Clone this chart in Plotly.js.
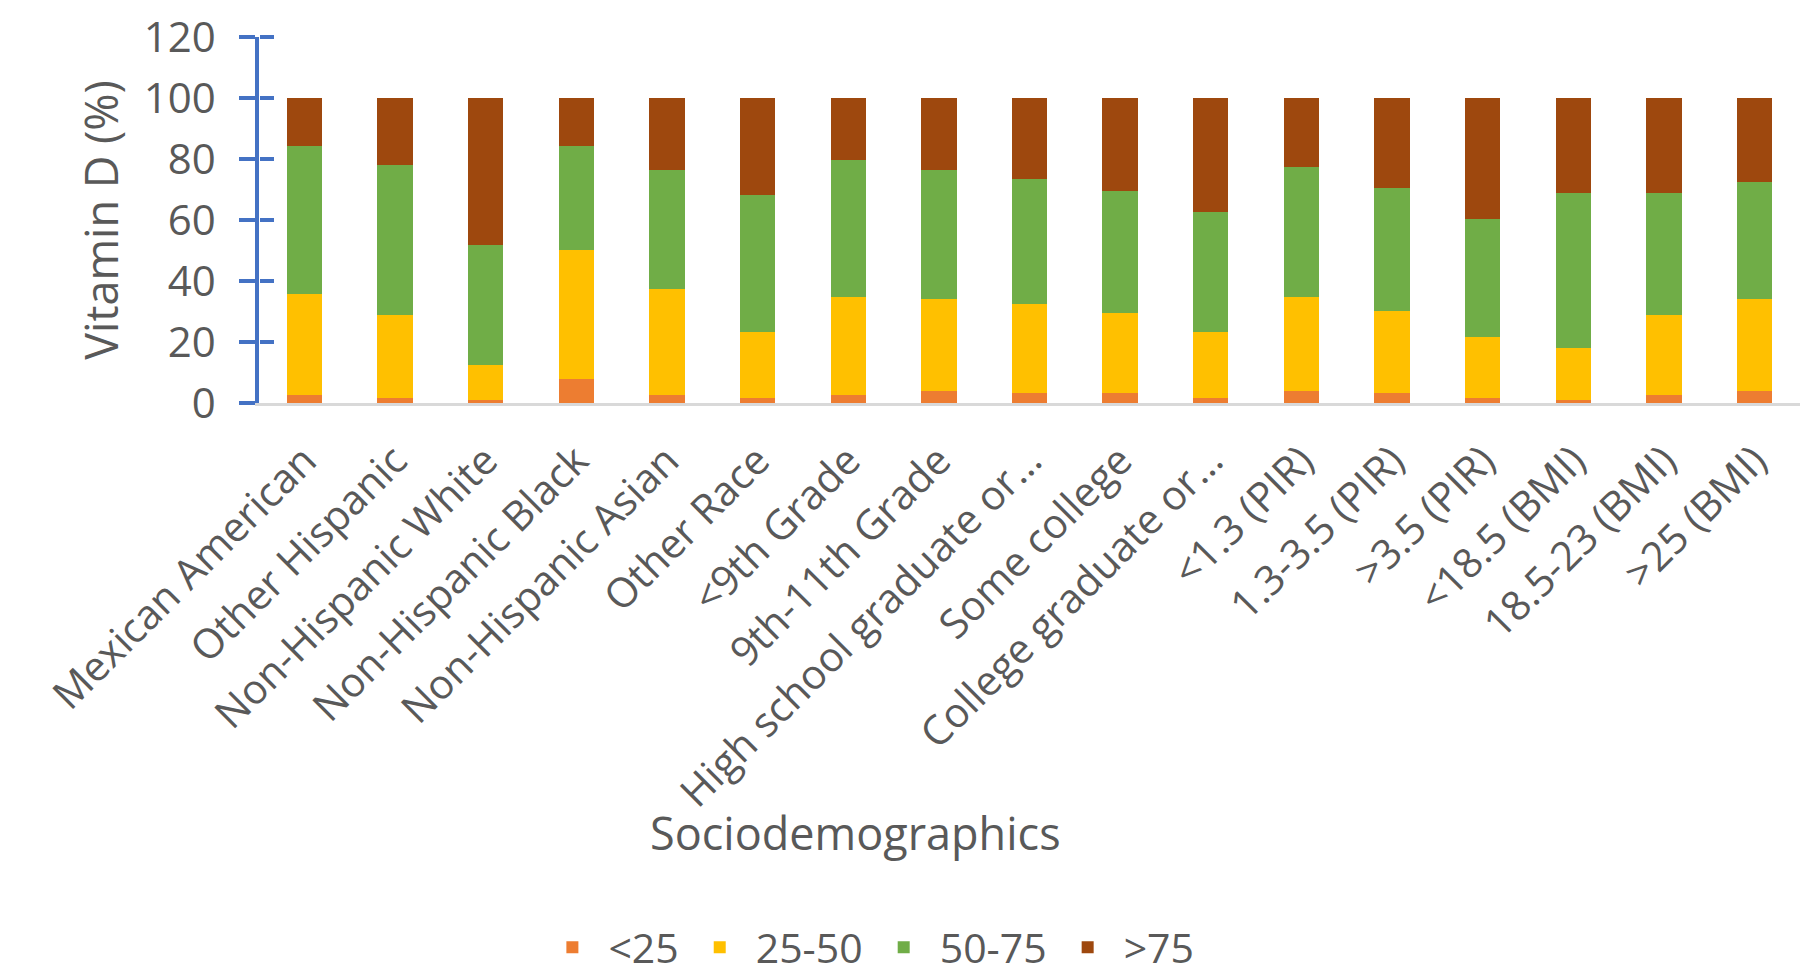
<!DOCTYPE html>
<html>
<head>
<meta charset="utf-8">
<script src="https://cdn.plot.ly/plotly-3.0.1.min.js"></script>
<style>html,body{margin:0;padding:0;background:#fff;}#chart{width:1820px;height:977px;}</style>
</head>
<body>
<div id="chart"></div>
<script>
const categories = ["Mexican American","Other Hispanic","Non-Hispanic White","Non-Hispanic Black","Non-Hispanic Asian","Other Race","<9th Grade","9th-11th Grade","High school graduate or…","Some college","College graduate or…","<1.3 (PIR)","1.3-3.5 (PIR)",">3.5 (PIR)","<18.5 (BMI)","18.5-23 (BMI)",">25 (BMI)"];
const seriesNames = ["<25","25-50","50-75",">75"];
const below25 = [2.5,1.8,1.1,7.9,2.5,1.8,2.5,4.1,3.2,3.2,1.8,4.1,3.4,1.8,1.1,2.5,4.1];
const from25to50 = [33.2,27.0,11.5,42.4,34.8,21.4,32.4,30.0,29.3,26.2,21.4,30.8,26.9,20.0,16.8,26.3,30.1];
const from50to75 = [48.5,49.3,39.3,33.9,39.2,44.9,44.8,42.4,40.9,40.1,39.4,42.4,40.1,38.5,50.9,40.0,38.4];
const above75 = [15.8,21.9,48.1,15.8,23.5,31.9,20.3,23.5,26.6,30.5,37.4,22.7,29.6,39.7,31.2,31.2,27.4];
const yTicks = [0,20,40,60,80,100,120];

const colors = ["#ED7D31","#FFC000","#70AD47","#9E480E"];
const values = [below25, from25to50, from50to75, above75];
const FONT = "Open Sans, Calibri, sans-serif";
const GREY = "#595959";
const AXBLUE = "#4472C4";

const traces = values.map((v, i) => ({
  type: "bar",
  x: categories,
  y: v,
  name: seriesNames[i],
  marker: {color: colors[i], line: {width: 0}},
  hoverinfo: "x+y+name"
}));
// invisible helper trace so the overlay axis (right-hand half of the crossing ticks) is drawn
traces.push({type:"scatter", x:[categories[0]], y:[0], yaxis:"y2", mode:"markers",
             marker:{opacity:0, size:1}, showlegend:false, hoverinfo:"skip"});

const layout = {
  width: 1820, height: 977,
  margin: {l: 259, r: 20, t: 37, b: 574},
  paper_bgcolor: "#fff", plot_bgcolor: "#fff",
  barmode: "stack",
  bargap: 0.61,
  font: {family: FONT, color: GREY},
  showlegend: true,
  legend: {orientation: "h", x: 0.18, xanchor: "left",
           yref: "container", y: 0.03, yanchor: "middle",
           font: {size: 41, color: GREY, family: FONT}, traceorder: "normal",
           itemwidth: 62, bgcolor: "rgba(0,0,0,0)"},
  xaxis: {
    type: "category",
    range: [-0.5, categories.length - 0.5],
    tickangle: -45,
    tickfont: {size: 41, color: GREY, family: FONT},
    ticklabelstandoff: 14,
    showline: true, linecolor: "#D9D9D9", linewidth: 3,
    ticks: "", showgrid: false, zeroline: false,
    automargin: false
  },
  yaxis: {
    range: [0, 120],
    tickvals: yTicks,
    ticktext: yTicks.map(String),
    tickfont: {size: 42, color: GREY, family: FONT},
    showline: true, linecolor: AXBLUE, linewidth: 3.5,
    ticks: "outside", ticklen: 16, tickwidth: 3.5, tickcolor: AXBLUE,
    ticklabelstandoff: 15,
    showgrid: false, zeroline: false,
    automargin: false,
    title: {text: "Vitamin D (%)", font: {size: 45, color: GREY, family: FONT}, standoff: 12}
  },
  yaxis2: {
    overlaying: "y", side: "right", anchor: "free", position: 0, range: [0, 120],
    tickmode: "array",
    tickvals: yTicks.slice(1),
    showticklabels: false,
    ticks: "outside", ticklen: 14, tickwidth: 3.5, tickcolor: AXBLUE,
    showline: false, showgrid: false, zeroline: false, automargin: false
  },
  annotations: [{
    text: "Sociodemographics", xref: "paper", yref: "paper",
    x: 0.387, y: -1.174, xanchor: "center", yanchor: "middle",
    showarrow: false, font: {size: 45, color: GREY, family: FONT}
  }]
};

Plotly.newPlot("chart", traces, layout, {displayModeBar: false, responsive: false});
</script>
</body>
</html>
